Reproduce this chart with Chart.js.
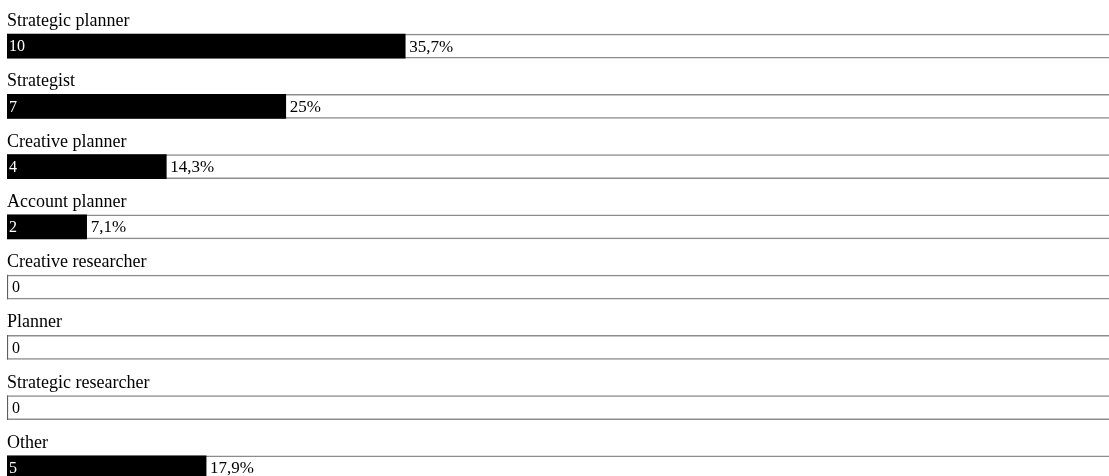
<!DOCTYPE html>
<html>
<head>
<meta charset="utf-8">
<script src="https://cdn.jsdelivr.net/npm/chart.js@4"></script>
<style>
  html, body { margin: 0; padding: 0; background: #fff; overflow: hidden; }
  #wrap { width: 1122px; height: 500px; }
</style>
</head>
<body>
<div id="wrap"><canvas id="myChart" width="1122" height="500"></canvas></div>
<script>
var categories = ['Strategic planner', 'Strategist', 'Creative planner', 'Account planner',
                  'Creative researcher', 'Planner', 'Strategic researcher', 'Other'];
var counts = [10, 7, 4, 2, 0, 0, 0, 5];
var total = counts.reduce(function (a, b) { return a + b; }, 0);
var percents = counts.map(function (c) { return c / total * 100; });
var fullBox = categories.map(function () { return 100; });

function fmtPct(p) {
    var s = (Math.round(p * 10) / 10).toFixed(1).replace('.', ',');
    return s.replace(/,0$/, '') + '%';
}

var serif = '"Liberation Serif", "Times New Roman", serif';

var labelsPlugin = {
    id: 'rowLabels',
    afterDatasetsDraw: function (chart) {
        var ctx = chart.ctx;
        var meta = chart.getDatasetMeta(0);
        ctx.save();
        meta.data.forEach(function (bar, i) {
            var top = bar.y - bar.height / 2;
            ctx.font = '18px ' + serif;
            ctx.textBaseline = 'alphabetic';
            ctx.textAlign = 'left';
            ctx.fillStyle = '#000';
            ctx.fillText(categories[i], bar.base, top - 8);

            ctx.font = '16px ' + serif;
            ctx.textBaseline = 'middle';
            if (counts[i] > 0) {
                ctx.fillStyle = '#fff';
                ctx.fillText(String(counts[i]), bar.base + 2, bar.y + 1);
                ctx.fillStyle = '#000';
                ctx.font = '17px ' + serif;
                ctx.fillText(fmtPct(percents[i]), bar.x + 4, bar.y + 1);
            } else {
                ctx.fillStyle = '#000';
                ctx.fillText('0', bar.base + 5, bar.y + 1);
            }
        });
        ctx.restore();
    }
};

var ctx = document.getElementById('myChart').getContext('2d');
var myChart = new Chart(ctx, {
    type: 'bar',
    data: {
        labels: categories,
        datasets: [{
            data: percents,
            backgroundColor: '#000',
            borderWidth: 0,
            barThickness: 24,
            grouped: false
        }, {
            data: fullBox,
            backgroundColor: '#fff',
            borderColor: '#8c8c8c',
            borderWidth: 1.5,
            borderSkipped: false,
            barThickness: 24,
            grouped: false
        }]
    },
    options: {
        indexAxis: 'y',
        responsive: false,
        animation: false,
        layout: { padding: { top: 16, left: 7, right: 0, bottom: 2 } },
        plugins: { legend: { display: false }, tooltip: { enabled: false } },
        scales: {
            x: { display: false, min: 0, max: 100 },
            y: { display: false }
        }
    },
    plugins: [labelsPlugin]
});
</script>
</body>
</html>
